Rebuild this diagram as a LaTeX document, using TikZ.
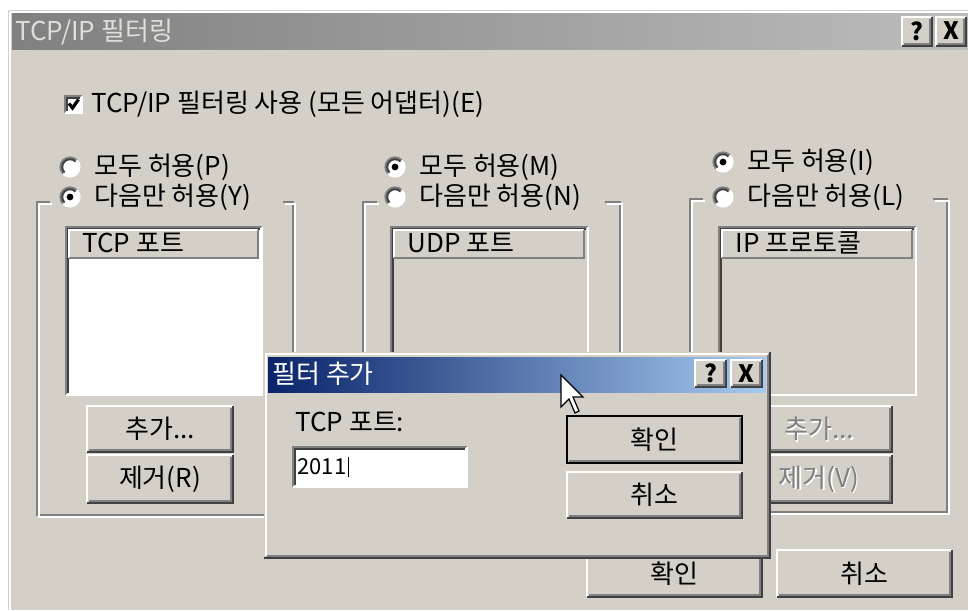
\documentclass[tikz,border=0pt]{standalone}
\usepackage{fontspec}
\setmainfont{Noto Sans CJK KR}
\definecolor{winface}{HTML}{D4D0C8}
\definecolor{winshade}{HTML}{808080}
\definecolor{windark}{HTML}{404040}
\definecolor{capgrey}{HTML}{BCBCBC}
\definecolor{capdark}{HTML}{0A246A}
\definecolor{caplight}{HTML}{A6CAF0}
\tikzset{
	ui/.style={inner sep=0pt, font=\fontsize{13}{15}\selectfont},
	lbl/.style={ui, anchor=west},
	glyph/.style={inner sep=0pt, font=\fontsize{12}{14}\selectfont\bfseries},
	hi/.style={draw=white, line width=1pt},
	lo/.style={draw=winshade, line width=1pt},
	dk/.style={draw=windark, line width=1pt},
	pointer/.style={draw=black, fill=white, line width=0.6pt, line join=miter}
}

\begin{document}
\begin{tikzpicture}[x=0.5pt,y=-0.5pt]
	\useasboundingbox (0,0) rectangle (968,610);
	\fill [white] (0,0) rectangle (968,610);
	% main window
	\fill [winface] (8,10) rectangle (968,610);
	\draw [hi] (10,610) |- (968,12);
	\shade [left color=winshade, right color=capgrey] (12,14) rectangle (968,50);
	\node [lbl, text=winface!70!white] (title) at (15,32) {TCP/IP 필터링};
	\foreach \xa/\xb/\gl/\nm in {902/932/?/help, 936/966/X/close}
	{
		\fill [winface] (\xa,17) rectangle (\xb,46);
		\draw [hi] (\xa,46) |- (\xb,17);
		\draw [dk] (\xa,46) -| (\xb,17);
		\draw [lo] (\xa+2,44) -| (\xb-2,19);
		\node [glyph] (\nm) at ({(\xa+\xb)/2},31) {\gl};
	}
	% check box
	\fill [white] (65,96) rectangle (82,113);
	\draw [lo] (65,113) |- (82,96);
	\draw [dk] (67,111) |- (80,98);
	\draw [hi] (65,113) -| (82,96);
	\draw [black, line width=1.6pt] (69,103.5) -- (72.5,108) -- (78.5,99.5);
	\node [lbl] (usefilter) at (91,104) {TCP/IP 필터링 사용 (모든 어댑터)(E)};
	% group frames
	\foreach \gl/\gr/\ga/\gb/\gt/\gbt in {37/293/50/283/202/515, 363/620/377/605/202/515, 690/947/703/933/199/512}
	{
		\draw [lo] (\ga,\gt) -- (\gl,\gt) -- (\gl,\gbt) -- (\gr,\gbt) -- (\gr,\gt) -- (\gb,\gt);
		\draw [hi, shift={(2,2)}] (\ga,\gt) -- (\gl,\gt) -- (\gl,\gbt) -- (\gr,\gbt) -- (\gr,\gt) -- (\gb,\gt);
	}
	% radio buttons
	\foreach \rx/\ry/\on/\txt/\nm in {70/167/0/{모두 허용(P)}/tcpall, 70/197/1/{다음만 허용(Y)}/tcponly,
		395/167/1/{모두 허용(M)}/udpall, 395/197/0/{다음만 허용(N)}/udponly,
		723/162/1/{모두 허용(I)}/ipall, 723/197/0/{다음만 허용(L)}/iponly}
	{
		\fill [winface] (\rx,\ry) circle (5.5pt);
		\fill [white] (\rx,\ry) circle (4.8pt);
		\draw [lo] ([shift={(45:4.8pt)}]\rx,\ry) arc (45:225:4.8pt);
		\draw [dk] ([shift={(45:3.9pt)}]\rx,\ry) arc (45:225:3.9pt);
		\draw [hi] ([shift={(225:4.8pt)}]\rx,\ry) arc (225:405:4.8pt);
		\ifnum\on=1 \fill [black] (\rx,\ry) circle (1.7pt); \fi
		\node [lbl] (\nm) at (\rx+24,\ry) {\txt};
	}
	% list boxes
	\foreach \xa/\xb/\txt/\lc/\nm in {66/262/{TCP 포트}/white/tcplist, 391/588/{UDP 포트}/winface/udplist, 719/916/{IP 프로토콜}/winface/iplist}
	{
		\fill [\lc] (\xa,227) rectangle (\xb,395);
		\draw [lo] (\xa,395) |- (\xb,227);
		\draw [dk] (\xa+2,393) |- (\xb-2,229);
		\draw [hi] (\xa,395) -| (\xb,227);
		\fill [winface] (\xa+3,230) rectangle (\xb-4,258);
		\draw [hi] (\xa+3,258) |- (\xb-4,230);
		\draw [lo] (\xa+3,258) -| (\xb-4,230);
		\node [lbl] (\nm) at (\xa+16,243) {\txt};
	}
	% buttons
	\foreach \xa/\ya/\xb/\yb/\txt/\nm in {87/406/233/452/{추가...}/tcpadd, 87/455/233/503/{제거(R)}/tcpdel,
		587/550/762/597/확인/ok, 777/550/952/597/취소/cancel}
	{
		\fill [winface] (\xa,\ya) rectangle (\xb,\yb);
		\draw [hi] (\xa,\yb) |- (\xb,\ya);
		\draw [dk] (\xa,\yb) -| (\xb,\ya);
		\draw [lo] (\xa+2,\yb-2) -| (\xb-2,\ya+2);
		\node [ui] (\nm) at ({(\xa+\xb)/2},{(\ya+\yb)/2}) {\txt};
	}
	% disabled buttons
	\foreach \xa/\ya/\xb/\yb/\txt/\nm in {746/406/892/452/{추가...}/ipadd, 746/455/892/503/{제거(V)}/ipdel}
	{
		\fill [winface] (\xa,\ya) rectangle (\xb,\yb);
		\draw [hi] (\xa,\yb) |- (\xb,\ya);
		\draw [dk] (\xa,\yb) -| (\xb,\ya);
		\draw [lo] (\xa+2,\yb-2) -| (\xb-2,\ya+2);
		\node [ui, text=white] at ({(\xa+\xb)/2+1.5},{(\ya+\yb)/2+1.5}) {\txt};
		\node [ui, text=winshade] (\nm) at ({(\xa+\xb)/2},{(\ya+\yb)/2}) {\txt};
	}
	% add filter dialog
	\fill [winface] (264,352) rectangle (770,558);
	\draw [dk] (264,558) -| (770,352);
	\draw [lo] (266,556) -| (768,354);
	\draw [hi] (266,556) |- (768,354);
	\shade [left color=capdark, right color=caplight] (268,357) rectangle (766,392);
	\node [lbl, text=white] (addtitle) at (272,374) {필터 추가};
	\foreach \xa/\xb/\gl/\nm in {695/726/?/addhelp, 731/762/X/addclose}
	{
		\fill [winface] (\xa,360) rectangle (\xb,387);
		\draw [hi] (\xa,387) |- (\xb,360);
		\draw [dk] (\xa,387) -| (\xb,360);
		\draw [lo] (\xa+2,385) -| (\xb-2,362);
		\node [glyph] (\nm) at ({(\xa+\xb)/2},373.5) {\gl};
	}
	\node [lbl] (portlabel) at (295,422) {TCP 포트:};
	\fill [white] (293,447) rectangle (467,487);
	\draw [lo] (293,487) |- (467,447);
	\draw [dk] (295,485) |- (465,449);
	\draw [hi] (293,487) -| (467,447);
	\node [lbl, font=\fontsize{11}{13}\selectfont] (portvalue) at (297,467) {2011};
	\draw [black, line width=0.6pt] (portvalue.east) ++(2,-10) -- ++(0,20);
	\foreach \ya/\yb/\txt/\nm in {416/463/확인/addok, 472/518/취소/addcancel}
	{
		\fill [winface] (567,\ya) rectangle (742,\yb);
		\draw [hi] (567,\yb) |- (742,\ya);
		\draw [dk] (567,\yb) -| (742,\ya);
		\draw [lo] (569,\yb-2) -| (740,\ya+2);
		\node [ui] (\nm) at (654.5,{(\ya+\yb)/2}) {\txt};
	}
	\draw [black, line width=1pt] (567,416) rectangle (742,463);
	% mouse pointer
	\draw [pointer, shift={(561,375)}] (0,0) -- (0,32) -- (8,24) -- (14,38) -- (18,36) -- (12,22) -- (22,22) -- cycle;
\end{tikzpicture}
\end{document}
